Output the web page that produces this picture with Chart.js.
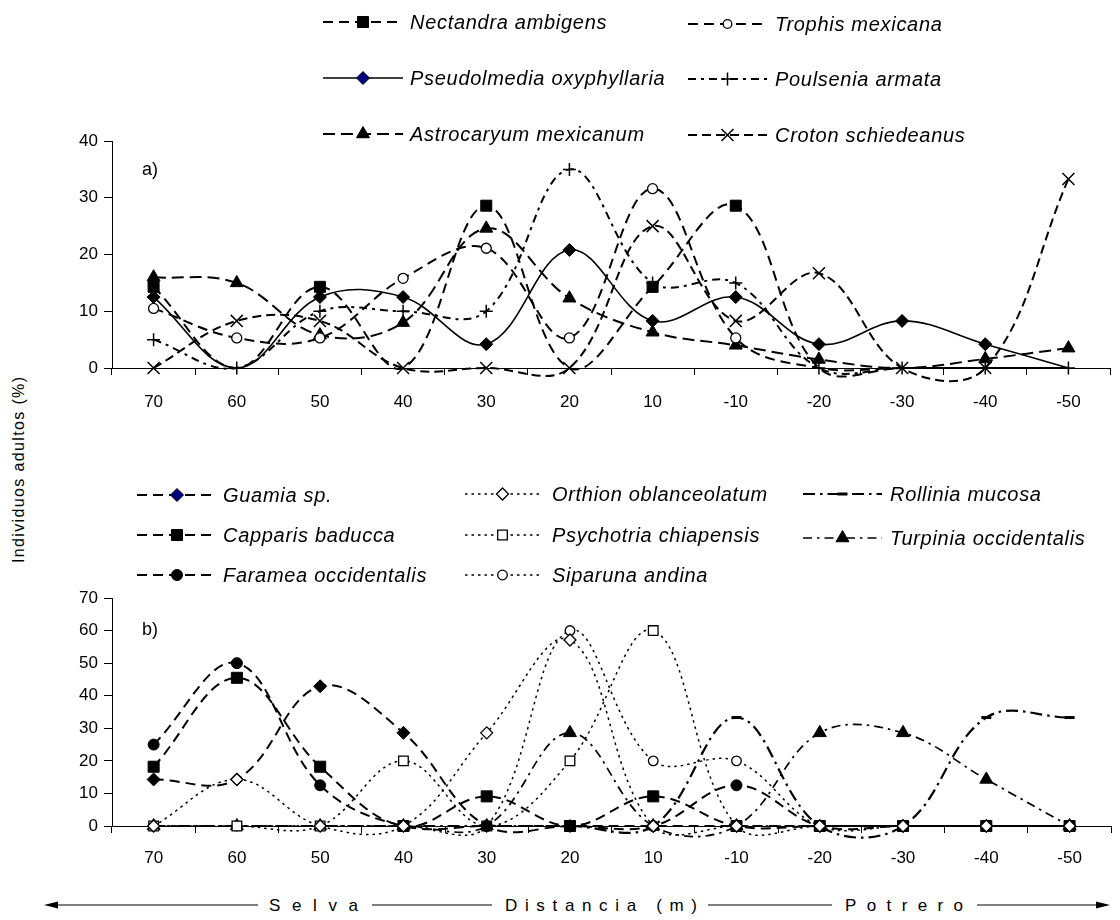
<!DOCTYPE html>
<html>
<head>
<meta charset="utf-8">
<script src="https://cdn.jsdelivr.net/npm/chart.js@4.4.1/dist/chart.umd.min.js"></script>
<style>
  html, body { margin: 0; padding: 0; background: #fff; }
  body { width: 1120px; height: 920px; position: relative; overflow: hidden;
         font-family: "Liberation Sans", Arial, sans-serif; }
  #deco { position: absolute; left: 0; top: 0; }
  #topChart { position: absolute; left: 0; top: 0; }
  #botChart { position: absolute; left: 0; top: 440px; }
</style>
</head>
<body>
<svg id="deco" width="1120" height="920" font-family="Liberation Sans, Arial, sans-serif">
  <text transform="translate(24,470) rotate(-90)" text-anchor="middle" font-size="16" textLength="186" lengthAdjust="spacing">Individuos adultos (%)</text>
  <g stroke="#000" stroke-width="1.2">
    <line x1="48" y1="905" x2="258" y2="905"/>
    <line x1="372" y1="905" x2="492" y2="905"/>
    <line x1="708" y1="905" x2="832" y2="905"/>
    <line x1="977" y1="905" x2="1104" y2="905"/>
  </g>
  <polygon points="44,905 58,901.5 58,908.5" fill="#000"/>
  <polygon points="1110,905 1096,901.5 1096,908.5" fill="#000"/>
  <g font-size="17">
    <text x="269" y="911" textLength="89" lengthAdjust="spacing">Selva</text>
    <text x="505" y="911" textLength="192" lengthAdjust="spacing">Distancia (m)</text>
    <text x="845" y="911" textLength="118" lengthAdjust="spacing">Potrero</text>
  </g>
</svg>
<canvas id="topChart" width="1120" height="430"></canvas>
<canvas id="botChart" width="1120" height="440"></canvas>
<script>
// Distance from the forest edge (m); positive = forest, negative = pasture
const distances = ['70', '60', '50', '40', '30', '20', '10', '-10', '-20', '-30', '-40', '-50'];

// a) adult individuals (%) per distance
const nectandraAmbigens        = [14.3, 0, 14.3, 0, 28.6, 0, 14.3, 28.6, 0, 0, 0, 0];
const trophisMexicana          = [10.5, 5.3, 5.3, 15.8, 21.1, 5.3, 31.6, 5.3, 0, 0, 0, 0];
const pseudolmediaOxyphyllaria = [12.5, 0, 12.5, 12.5, 4.2, 20.8, 8.3, 12.5, 4.2, 8.3, 4.2, 0];
const poulseniaArmata          = [5, 0, 10, 10, 10, 35, 15, 15, 0, 0, 0, 0];
const astrocaryumMexicanum     = [16, 15, 5.8, 8, 24.6, 12.3, 6.3, 4, 1.5, 0, 1.6, 3.5];
const crotonSchiedeanus        = [0, 8.3, 8.3, 0, 0, 0, 25, 8.3, 16.7, 0, 0, 33.3];

// b) adult individuals (%) per distance
const guamiaSp               = [14.3, 14.3, 42.9, 28.6, 0, 0, 0, 0, 0, 0, 0, 0];
const capparisBaducca        = [18.2, 45.5, 18.2, 0, 9.1, 0, 9.1, 0, 0, 0, 0, 0];
const farameaOccidentalis    = [25, 50, 12.5, 0, 0, 0, 0, 12.5, 0, 0, 0, 0];
const orthionOblanceolatum   = [0, 14.3, 0, 0, 28.6, 57.1, 0, 0, 0, 0, 0, 0];
const psychotriaChiapensis   = [0, 0, 0, 20, 0, 20, 60, 0, 0, 0, 0, 0];
const siparunaAndina         = [0, 0, 0, 0, 0, 60, 20, 20, 0, 0, 0, 0];
const rolliniaMucosa         = [0, 0, 0, 0, 0, 0, 0, 33.3, 0, 0, 33.3, 33.3];
const turpiniaOccidentalis   = [0, 0, 0, 0, 0, 28.6, 0, 0, 28.6, 28.6, 14.3, 0];

const yTicksTop = [0, 10, 20, 30, 40];
const yTicksBot = [0, 10, 20, 30, 40, 50, 60, 70];

const FONT = '"Liberation Sans", Arial, sans-serif';

function series(label, data, style) {
  return Object.assign({
    label, data,
    borderColor: '#000',
    backgroundColor: '#000',
    pointBorderColor: '#000',
    pointBackgroundColor: '#000',
    pointBorderWidth: 1,
    borderWidth: 2,
    tension: 0.38,
    cubicInterpolationMode: 'default',
    capBezierPoints: false,
    clip: false,
    fill: false
  }, style);
}

// in panel a) solid/outlined symbols sitting on the zero line are left off
function hideAtZero(r) {
  return ctx => (ctx.raw === 0 ? 0 : r);
}

const LONG_DASH = [10, 6];
const DASH_DOT_PLUS = [8, 5, 3, 5];
const SHORT_DOT = [2.5, 4];
const DASH_DOT = [12, 5, 2.5, 5];

// Legend samples (line + symbol + italic species name) and the panel letter
function makeLegend(items, panel) {
  return {
    id: 'speciesLegend',
    afterDraw(chart) {
      const ctx = chart.ctx;
      ctx.save();
      items.forEach(it => {
        const ds = chart.data.datasets[it.index];
        const s = it.sym;
        ctx.save();
        ctx.strokeStyle = '#000';
        ctx.lineWidth = ds.borderWidth;
        ctx.setLineDash(ds.borderDash || []);
        ctx.beginPath();
        ctx.moveTo(it.x0, it.y);
        ctx.lineTo(it.x1, it.y);
        ctx.stroke();
        ctx.restore();

        ctx.save();
        ctx.setLineDash([]);
        ctx.fillStyle = s.fill;
        ctx.strokeStyle = '#000';
        ctx.lineWidth = s.bw;
        Chart.helpers.drawPoint(ctx, { pointStyle: s.style, radius: s.r, borderWidth: s.bw, rotation: 0 },
          (it.x0 + it.x1) / 2, it.y);
        ctx.restore();

        ctx.save();
        ctx.fillStyle = '#000';
        ctx.font = 'italic 20px ' + FONT;
        if ('letterSpacing' in ctx) ctx.letterSpacing = '0.7px';
        ctx.textBaseline = 'middle';
        ctx.textAlign = 'left';
        ctx.fillText(ds.label, it.tx, it.y + 1);
        ctx.restore();
      });
      ctx.fillStyle = '#000';
      ctx.font = '18px ' + FONT;
      ctx.textBaseline = 'middle';
      ctx.fillText(panel.text, panel.x, panel.y);
      ctx.restore();
    }
  };
}

function panelOptions(yMax, ticks, padTop, xAxisHeight, labelPad) {
  return {
    responsive: false,
    animation: false,
    devicePixelRatio: 1,
    events: [],
    layout: { padding: { left: 0, right: 1, top: padTop, bottom: 0 } },
    scales: {
      x: {
        type: 'category',
        offset: true,
        grid: { offset: true, drawOnChartArea: false, drawTicks: true, tickLength: 7, color: '#000', lineWidth: 1 },
        border: { display: true, color: '#000', width: 1 },
        ticks: { color: '#000', font: { family: FONT, size: 17 }, padding: labelPad, autoSkip: false, maxRotation: 0 },
        afterFit(scale) { scale.height = xAxisHeight; }
      },
      y: {
        min: 0, max: yMax,
        afterBuildTicks(scale) { scale.ticks = ticks.map(v => ({ value: v })); },
        grid: { drawOnChartArea: false, drawTicks: true, tickLength: 8, color: '#000', lineWidth: 1 },
        border: { display: true, color: '#000', width: 1 },
        ticks: { color: '#000', font: { family: FONT, size: 17 }, padding: 6 },
        afterFit(scale) { scale.width = 112; }
      }
    },
    plugins: { legend: { display: false }, tooltip: { enabled: false } }
  };
}

// symbol descriptions shared by the plotted points and the legend samples
const SYM = {
  square:      { style: 'rect', r: 7.8, fill: '#000', bw: 1 },
  diamond:     { style: 'rectRot', r: 6.5, fill: '#000', bw: 1 },
  diamondNavy: { style: 'rectRot', r: 6.5, fill: '#000080', bw: 1 },
  circleOpen:  { style: 'circle', r: 5, fill: '#fff', bw: 1.3 },
  circleSmall: { style: 'circle', r: 4.3, fill: '#fff', bw: 1.3 },
  plus:        { style: 'cross', r: 6.5, fill: '#000', bw: 1.5 },
  triangle:    { style: 'triangle', r: 7.5, fill: '#000', bw: 1 },
  xmark:       { style: 'crossRot', r: 8.5, fill: '#000', bw: 1.5 },
  circle:      { style: 'circle', r: 5.5, fill: '#000', bw: 1 },
  diamondOpen: { style: 'rectRot', r: 6, fill: '#fff', bw: 1.3 },
  squareOpen:  { style: 'rect', r: 6.8, fill: '#fff', bw: 1.3 },
  circleOpenS: { style: 'circle', r: 4.8, fill: '#fff', bw: 1.3 },
  dash:        { style: 'line', r: 5, fill: '#000', bw: 3 },
  triangleB:   { style: 'triangle', r: 7.5, fill: '#000', bw: 1 }
};

function pointOpts(sym, hide) {
  return {
    pointStyle: sym.style,
    pointRadius: hide ? hideAtZero(sym.r) : sym.r,
    pointBackgroundColor: sym.fill === '#000080' ? '#000' : sym.fill,
    pointBorderWidth: sym.bw
  };
}

// Panel a)
new Chart(document.getElementById('topChart'), {
  type: 'line',
  data: {
    labels: distances,
    datasets: [
      series('Nectandra ambigens', nectandraAmbigens, Object.assign({ borderDash: LONG_DASH }, pointOpts(SYM.square, true))),
      series('Trophis mexicana', trophisMexicana, Object.assign({ borderDash: LONG_DASH }, pointOpts(SYM.circleOpen, true))),
      series('Pseudolmedia oxyphyllaria', pseudolmediaOxyphyllaria, Object.assign({ borderWidth: 1.6 }, pointOpts(SYM.diamond, true))),
      series('Poulsenia armata', poulseniaArmata, Object.assign({ borderDash: DASH_DOT_PLUS }, pointOpts(SYM.plus, false))),
      series('Astrocaryum mexicanum', astrocaryumMexicanum, Object.assign({ borderDash: [12, 6] }, pointOpts(SYM.triangle, true))),
      series('Croton schiedeanus', crotonSchiedeanus, Object.assign({ borderDash: [9, 5] }, pointOpts(SYM.xmark, false)))
    ]
  },
  options: panelOptions(40, yTicksTop, 141, 62, 17),
  plugins: [makeLegend([
    { index: 0, sym: SYM.square,      x0: 323, x1: 403, tx: 410, y: 22 },
    { index: 2, sym: SYM.diamondNavy, x0: 323, x1: 403, tx: 410, y: 78 },
    { index: 4, sym: SYM.triangle,    x0: 323, x1: 403, tx: 410, y: 134 },
    { index: 1, sym: SYM.circleSmall, x0: 688, x1: 767, tx: 775, y: 24 },
    { index: 3, sym: SYM.plus,        x0: 688, x1: 767, tx: 775, y: 79 },
    { index: 5, sym: SYM.xmark,       x0: 688, x1: 767, tx: 775, y: 135 }
  ], { text: 'a)', x: 142, y: 170 })]
});

// Panel b)
const legendB = [
  { index: 0, sym: SYM.diamondNavy, x0: 137, x1: 217, tx: 223, y: 495 },
  { index: 1, sym: SYM.square,      x0: 137, x1: 217, tx: 223, y: 535 },
  { index: 2, sym: SYM.circle,      x0: 137, x1: 217, tx: 223, y: 575 },
  { index: 3, sym: SYM.diamondOpen, x0: 465, x1: 540, tx: 552, y: 494 },
  { index: 4, sym: SYM.squareOpen,  x0: 465, x1: 540, tx: 552, y: 535 },
  { index: 5, sym: SYM.circleOpenS, x0: 465, x1: 540, tx: 552, y: 575 },
  { index: 6, sym: SYM.dash,        x0: 803, x1: 882, tx: 890, y: 494 },
  { index: 7, sym: SYM.triangleB,   x0: 803, x1: 882, tx: 890, y: 538 }
].map(it => Object.assign({}, it, { y: it.y - 440 }));

new Chart(document.getElementById('botChart'), {
  type: 'line',
  data: {
    labels: distances,
    datasets: [
      series('Guamia sp.', guamiaSp, Object.assign({ borderDash: LONG_DASH }, pointOpts(SYM.diamond, false))),
      series('Capparis baducca', capparisBaducca, Object.assign({ borderDash: LONG_DASH }, pointOpts(SYM.square, false))),
      series('Faramea occidentalis', farameaOccidentalis, Object.assign({ borderDash: LONG_DASH }, pointOpts(SYM.circle, false))),
      series('Orthion oblanceolatum', orthionOblanceolatum, Object.assign({ borderDash: SHORT_DOT, borderWidth: 1.5, order: -1 }, pointOpts(SYM.diamondOpen, false))),
      series('Psychotria chiapensis', psychotriaChiapensis, Object.assign({ borderDash: SHORT_DOT, borderWidth: 1.5 }, pointOpts(SYM.squareOpen, false))),
      series('Siparuna andina', siparunaAndina, Object.assign({ borderDash: SHORT_DOT, borderWidth: 1.5 }, pointOpts(SYM.circleOpenS, false))),
      series('Rollinia mucosa', rolliniaMucosa, Object.assign({ borderDash: DASH_DOT, borderWidth: 2.2 }, pointOpts(SYM.dash, false))),
      series('Turpinia occidentalis', turpiniaOccidentalis, Object.assign({ borderDash: [9, 5, 2.5, 5], borderWidth: 1.7 }, pointOpts(SYM.triangleB, false)))
    ]
  },
  options: panelOptions(70, yTicksBot, 158, 54, 15),
  plugins: [makeLegend(legendB, { text: 'b)', x: 142, y: 190 })]
});
</script>
</body>
</html>
